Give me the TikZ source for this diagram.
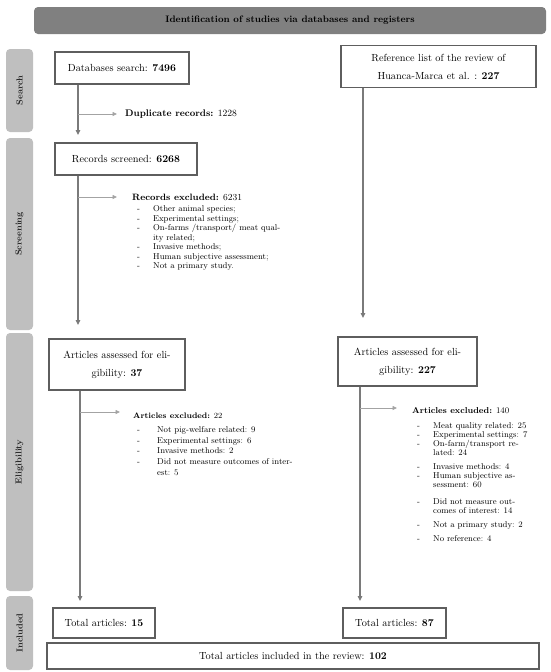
\documentclass[tikz,border=0pt]{standalone}
\usetikzlibrary{arrows.meta,calc}
\definecolor{hdrfill}{HTML}{808080}
\definecolor{sidefill}{HTML}{BFBFBF}
\definecolor{boxline}{HTML}{5E5E5E}
\definecolor{flowcol}{HTML}{7A7A7A}
\definecolor{lightcol}{HTML}{A3A3A3}
\newcommand{\fs}[2]{\fontsize{#1}{#2}\selectfont}
\begin{document}
\begin{tikzpicture}[x=1pt,y=-1pt,
  boxnode/.style={draw=boxline, line width=1.1pt, fill=white, inner sep=0pt, align=center, font=\fs{10.3}{18}},
  sidebar/.style={fill=sidefill, rounded corners=4pt, inner sep=0pt, rotate=90, font=\fs{8.8}{10}\bfseries, text=black!85},
  flow/.style={draw=flowcol, line width=1.2pt, -{Triangle[length=5pt,width=4.5pt]}},
  sideflow/.style={draw=lightcol, line width=0.8pt, -{Triangle[length=4.5pt,width=4pt]}},
  exttitle/.style={anchor=west, inner sep=0pt},
  extlist/.style={anchor=north west, inner sep=0pt, font=\fs{8.5}{9.5}},
]
\useasboundingbox (0,0) rectangle (550,672);

% header
\node[fill=hdrfill, rounded corners=4pt, minimum width=512, minimum height=27, inner sep=0pt,
      font=\fs{9.4}{11}\bfseries] (hdr) at (290,20.5) {Identification of studies via databases and registers};

% side bars
\node[sidebar, minimum width=83, minimum height=27] (search) at (19.5,90.5) {Search};
\node[sidebar, minimum width=192, minimum height=27] (screen) at (19.5,234) {Screening};
\node[sidebar, minimum width=258, minimum height=27] (elig) at (19.5,462) {Eligibility};
\node[sidebar, minimum width=74, minimum height=27] (incl) at (19.5,633) {Included};

% boxes
\node[boxnode, minimum width=134, minimum height=32] (db) at (122,68) {Databases search: \textbf{7496}};
\node[boxnode, minimum width=195, minimum height=42] (ref) at (438.5,66.5) {Reference list of the review of\\Huanca-Marca et al. : \textbf{227}};
\node[boxnode, minimum width=142, minimum height=32] (rs) at (126,159) {Records screened: \textbf{6268}};
\node[boxnode, minimum width=136, minimum height=51] (aa1) at (117,364.5) {Articles assessed for eli-\\gibility: \textbf{37}};
\node[boxnode, minimum width=139, minimum height=49] (aa2) at (407.5,361.5) {Articles assessed for eli-\\gibility: \textbf{227}};
\node[boxnode, minimum width=102, minimum height=30] (t15) at (104,623) {Total articles: \textbf{15}};
\node[boxnode, minimum width=103, minimum height=30] (t87) at (394.5,623) {Total articles: \textbf{87}};
\node[boxnode, minimum width=492, minimum height=26] (final) at (293,656) {Total articles included in the review: \textbf{102}};

% main flow
\coordinate (c1) at (78,135);
\coordinate (c2) at (78,325);
\coordinate (c3) at (80,601);
\coordinate (c4) at (363,318);
\coordinate (c5) at (360,601);
\draw[flow] (c1 |- db.south) -- (c1);
\draw[flow] (c2 |- rs.south) -- (c2);
\draw[flow] (c3 |- aa1.south) -- (c3);
\draw[flow] (c4 |- ref.south) -- (c4);
\draw[flow] (c5 |- aa2.south) -- (c5);

% duplicate records
\node[exttitle, font=\fs{9.6}{11}] (dup) at (125,114) {\textbf{Duplicate records:} 1228};
\coordinate (s1) at (78,114);
\draw[sideflow, shorten >=8pt] (s1) -- (dup.west);

% records excluded
\node[exttitle, font=\fs{9.2}{10}] (rex) at (132,197) {\textbf{Records excluded:} 6231};
\coordinate (s2) at (78,197);
\draw[sideflow, shorten >=15pt] (s2) -- (rex.west);
\node[extlist] (rexl) at (137,205) {\begin{tabular}{@{}p{16pt}@{}l@{}}
-& Other animal species;\\
-& Experimental settings;\\
-& On-farms /transport/ meat qual-\\
 & ity related;\\
-& Invasive methods;\\
-& Human subjective assessment;\\
-& Not a primary study.
\end{tabular}};

% articles excluded (left)
\node[exttitle, font=\fs{8.0}{10}] (aex1) at (133,416) {\textbf{Articles excluded:} 22};
\coordinate (s3) at (80,412);
\draw[sideflow, shorten >=13pt] (s3) -- (s3 -| aex1.west);
\node[extlist, font=\fs{8.5}{10.6}] (aex1l) at (137,425) {\begin{tabular}{@{}p{20pt}@{}l@{}}
-& Not pig-welfare related: 9\\
-& Experimental settings: 6\\
-& Invasive methods: 2\\
-& Did not measure outcomes of inter-\\
 & est: 5
\end{tabular}};

% articles excluded (right)
\node[exttitle, font=\fs{8.6}{10}] (aex2) at (412,411) {\textbf{Articles excluded:} 140};
\coordinate (s4) at (360,408);
\draw[sideflow, shorten >=15pt] (s4) -- (s4 -| aex2.west);
\node[extlist, font=\fs{8.5}{9}] (aex2l) at (417,422) {\begin{tabular}{@{}p{16pt}@{}l@{}}
-& Meat quality related: 25\\
-& Experimental settings: 7\\
-& On-farm/transport re-\\
 & lated: 24\\[5pt]
-& Invasive methods: 4\\
-& Human subjective as-\\
 & sessment: 60\\[8pt]
-& Did not measure out-\\
 & comes of interest: 14\\[5pt]
-& Not a primary study: 2\\[5pt]
-& No reference: 4
\end{tabular}};
\end{tikzpicture}
\end{document}
